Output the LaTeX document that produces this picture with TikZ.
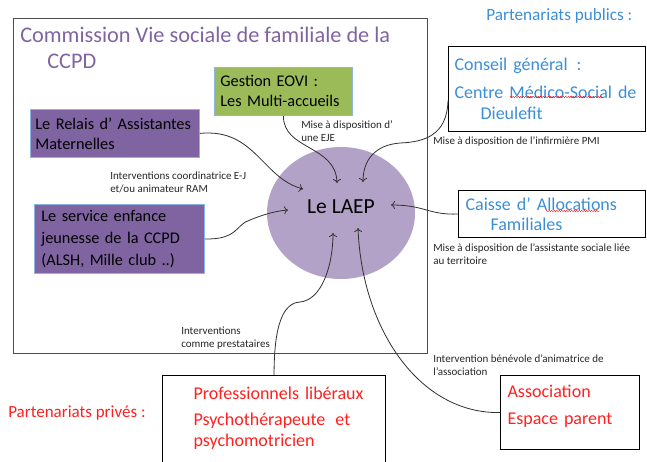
\documentclass[tikz,border=0pt]{standalone}
\usepackage{fontspec}
\setmainfont{Carlito}
\usetikzlibrary{calc, shapes.geometric, arrows.meta, decorations.pathmorphing}

\definecolor{ccpdpurple}{HTML}{8064A2}
\definecolor{laeplilac}{HTML}{B3A2C7}
\definecolor{eovigreen}{HTML}{9BBB59}
\definecolor{edgeblue}{HTML}{8EB4E3}
\definecolor{publicblue}{HTML}{3B8ED8}
\definecolor{privered}{HTML}{FF2020}
\definecolor{linkgrey}{HTML}{303030}

\newcommand{\boxfont}{\fontsize{16.3}{20}\selectfont}
\newcommand{\partfont}{\fontsize{18}{21.5}\selectfont}
\newcommand{\notefont}{\fontsize{11}{13}\selectfont}

\begin{document}
\begin{tikzpicture}[x=1pt, y=-1pt, line width=0.2mm,
  purplebox/.style={draw=edgeblue, fill=ccpdpurple, line width=0.8pt, anchor=north west, align=left, font=\boxfont, inner ysep=0pt},
  greenbox/.style={purplebox, fill=eovigreen},
  partbox/.style={draw=black, line width=1.1pt, anchor=north west, align=left, font=\partfont, inner ysep=0pt},
  note/.style={anchor=north west, align=left, inner sep=0pt, font=\notefont, text=black!85},
  link/.style={draw=linkgrey, line width=0.8pt, -{To[length=4pt,width=8pt]}},
  spellmark/.style={draw=red, line width=0.4pt, decorate, decoration={snake, amplitude=0.6pt, segment length=2.5pt}}]

% page of the same size as the reference
\useasboundingbox (0,0) rectangle (647,461);

% Commission frame and its title
\node[draw=black!70, line width=1pt, anchor=north west, minimum width=414, minimum height=335, inner sep=0pt] (ccpd) at (13,18) {};
\node[anchor=north west, align=left, inner sep=0pt, text=ccpdpurple, font=\fontsize{22.3}{26}\selectfont] (title) at (20,27) {Commission Vie sociale de familiale de la\\\hspace*{27pt}CCPD};

% Boxes inside the commission
\node[greenbox, minimum width=138, minimum height=48, text width=126, inner xsep=6] (eovi) at (214,67) {Gestion EOVI :\\Les Multi-accueils};
\node[purplebox, minimum width=169, minimum height=48, text width=159, inner xsep=5] (relais) at (30,109) {Le Relais d’ Assistantes\\Maternelles};
\node[purplebox, font=\fontsize{16.3}{22}\selectfont, minimum width=170, minimum height=69, text width=156, inner xsep=7] (service) at (34,204) {Le service enfance\\jeunesse de la CCPD\\(ALSH, Mille club ..)};

% The LAEP in the middle
\node[ellipse, fill=laeplilac, minimum width=148, minimum height=132] (laep) at (341,213) {};
\node[font=\fontsize{21.5}{24}\selectfont] (laeplabel) at (341,207) {Le LAEP};

% Public partners
\node[anchor=north west, inner sep=0pt, text=publicblue, font=\fontsize{17.2}{20}\selectfont] (publics) at (486,8) {Partenariats publics :};
\node[partbox, text=publicblue, minimum width=197, minimum height=85, text width=185, inner xsep=6] (conseil) at (448,46) {Conseil général\enspace:\\[6pt]Centre Médico-Social de\\\hspace*{26pt}Dieulefit};
\node[partbox, text=publicblue, font=\fontsize{18}{20}\selectfont, minimum width=187, minimum height=47, text width=173, inner xsep=7] (caisse) at (458,190) {Caisse d’ Allocations\\\hspace*{25pt}Familiales};

% Private partners
\node[anchor=north west, inner sep=0pt, text=privered, font=\fontsize{17}{20}\selectfont] (prives) at (8,406) {Partenariats privés :};
\node[partbox, text=privered, minimum width=223, minimum height=90, text width=211, inner xsep=6] (prof) at (162,375) {\hspace*{25pt}Professionnels libéraux\\[4pt]\hspace*{25pt}Psychothérapeute\hspace{10pt}et\\\hspace*{25pt}psychomotricien\\[-14pt]\mbox{}};
\node[partbox, text=privered, minimum width=139, minimum height=74, text width=125, inner xsep=7] (assoc) at (500,375) {Association\\[5pt]Espace parent\\[-6pt]\mbox{}};

% spell checker marks
\draw[spellmark] (510,97) -- (604,97);
\draw[spellmark] (546,211) -- (600,211);

% Where the arrows end inside the LAEP
\coordinate (inEovi) at (337,183);
\coordinate (inConseil) at (363,182);
\coordinate (inRelais) at (303,189);
\coordinate (inService) at (288,210);
\coordinate (inCaisse) at (391,205);
\coordinate (inProf) at (333,233);
\coordinate (inAssoc) at (358,228);

% Connectors
\draw[link] (eovi.south) .. controls (283,150) and (336,145) .. (inEovi);
\draw[link] (relais.east) .. controls (255,128) and (262,178) .. (inRelais);
\draw[link] (service.east) .. controls (238,240) and (236,224) .. (250,220) .. controls (262,215) and (275,211) .. (inService);
\draw[link] ([yshift=-11.5pt]conseil.west) .. controls (447,135) and (425,142) .. (400,143) .. controls (375,145) and (363,160) .. (inConseil);
\draw[link] (caisse.west) .. controls (428,215) and (425,205) .. (inCaisse);
\draw[link] (prof.north) .. controls (274,325) and (283,303) .. (300,302) .. controls (322,300) and (333,265) .. (inProf);
\draw[link] (assoc.west) .. controls (420,414) and (362,330) .. (inAssoc);

% Notes on the connectors
\node[note] (noteEje) at (301,120) {Mise à disposition d’\\une EJE};
\node[note] (noteRam) at (110,172) {Interventions coordinatrice E-J\\et/ou animateur RAM};
\node[note] (notePmi) at (433,136) {Mise à disposition de l’infirmière PMI};
\node[note] (noteAs) at (433,243) {Mise à disposition de l’assistante sociale liée\\au territoire};
\node[note] (notePresta) at (181,327) {Interventions\\comme prestataires};
\node[note] (noteBenev) at (433,354) {Intervention bénévole d’animatrice de\\l’association};

\end{tikzpicture}
\end{document}
